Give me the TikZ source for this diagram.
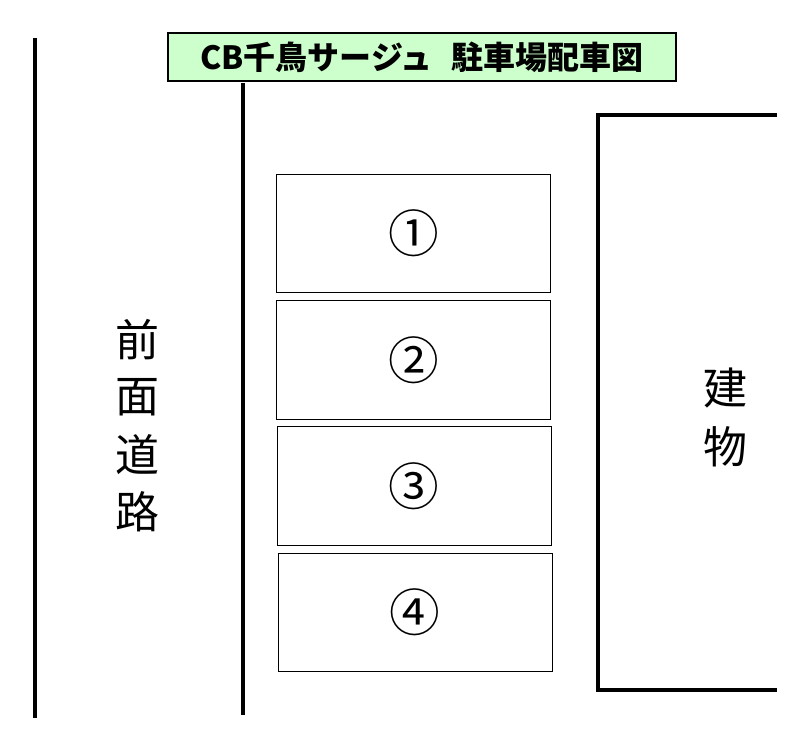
\documentclass[tikz,border=0pt]{standalone}
\usepackage{fontspec}
\newfontfamily\jp{Noto Sans CJK JP}
\definecolor{tg}{HTML}{CCFFCC}
\begin{document}
\begin{tikzpicture}[x=0.75pt,y=-0.75pt,
 lot/.style={draw,line width=0.6pt,minimum width=205.5pt,minimum height=89pt,inner sep=0pt,font=\jp\fontsize{38}{38}\selectfont},
 big/.style={font=\jp\fontsize{33}{33}\selectfont,inner sep=0pt},
 wall/.style={line width=2.6pt}]
\useasboundingbox (0,0) rectangle (806,741);
\node[draw,fill=tg,line width=0.8pt,minimum width=381pt,minimum height=36pt,inner sep=0pt,font=\jp\bfseries\fontsize{24}{24}\selectfont] (title) at (422,57) {CB千鳥サージュ\hspace{0.6em}駐車場配車図};
\coordinate (la) at (35,38); \coordinate (lb) at (35,718);
\draw[wall] (la)--(lb);
\coordinate (ma) at (243,83); \coordinate (mb) at (243,715);
\draw[wall] (ma)--(mb);
\coordinate (b1) at (777,115); \coordinate (b2) at (598,115); \coordinate (b3) at (598,690); \coordinate (b4) at (777,690);
\draw[wall] (b1)--(b2)--(b3)--(b4);
\node[lot] (p1) at (413.5,233.5) {①};
\node[lot] (p2) at (413.5,360) {②};
\node[lot] (p3) at (414,486) {③};
\node[lot] (p4) at (415,612.5) {④};
\node[big] (r1) at (137,340) {前};
\node[big] (r2) at (137,397) {面};
\node[big] (r3) at (137,455) {道};
\node[big] (r4) at (137,512) {路};
\node[big] (w1) at (725,388) {建};
\node[big] (w2) at (725,447) {物};
\end{tikzpicture}
\end{document}
